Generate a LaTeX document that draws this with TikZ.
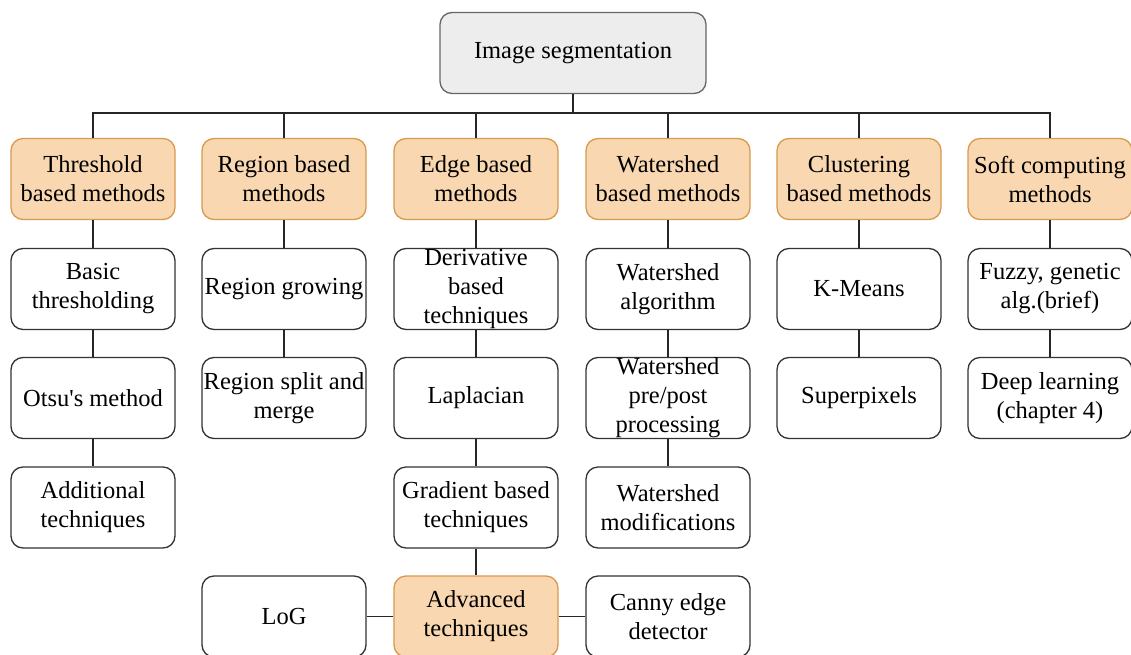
\documentclass[tikz,border=0pt]{standalone}
\usepackage{fontspec}
\setmainfont{Liberation Serif}
\begin{document}
\begin{tikzpicture}[x=1pt,y=-1pt,
  every node/.style={font=\fontsize{24.5}{29}\selectfont},
  base/.style={rounded corners=12pt, minimum width=164pt, minimum height=81pt,
    align=center, inner sep=0pt, line width=1.3pt},
  leaf/.style={base, draw=black!80, fill=white},
  rootbox/.style={base, draw=black!60, fill=black!7, minimum width=266pt},
  link/.style={line width=1.3pt, draw=black!85}]
\useasboundingbox (0,0) rectangle (1131,655);
\definecolor{catfill}{HTML}{F9D7B0}
\definecolor{catdraw}{HTML}{D79A4E}
\tikzset{cat/.style={base, draw=catdraw, fill=catfill}}

% root
\node[rootbox] (root) at (573,53) {\raisebox{-3pt}{Image segmentation}};

% categories
\node[cat] (c1) at (93,179)   {Threshold\\based methods};
\node[cat] (c2) at (284,179)  {Region based\\methods};
\node[cat] (c3) at (476,179)  {Edge based\\methods};
\node[cat] (c4) at (668,179)  {Watershed\\based methods};
\node[cat] (c5) at (859,179)  {Clustering\\based methods};
\node[cat] (c6) at (1050,179) {Soft computing\\methods};

% threshold
\node[leaf] (t1) at (93,289) {Basic\\thresholding};
\node[leaf] (t2) at (93,398) {\raisebox{-2pt}{Otsu\textquotesingle s method}};
\node[leaf] (t3) at (93,507.5) {Additional\\techniques};

% region
\node[leaf] (r1) at (284,289) {\raisebox{-2pt}{Region growing}};
\node[leaf] (r2) at (284,398) {Region split and\\merge};

% edge
\node[leaf] (e1) at (476,289) {Derivative\\based\\techniques};
\node[leaf] (e2) at (476,398) {\raisebox{-2pt}{Laplacian}};
\node[leaf] (e3) at (476,507.5) {Gradient based\\techniques};
\node[cat]  (e4) at (476,616.5) {Advanced\\techniques};
\node[leaf] (e5) at (284,616.5) {\raisebox{-2pt}{LoG}};
\node[leaf] (e6) at (668,616.5) {Canny edge\\detector};

% watershed
\node[leaf] (w1) at (668,289) {Watershed\\algorithm};
\node[leaf] (w2) at (668,398) {Watershed\\pre/post\\processing};
\node[leaf] (w3) at (668,507.5) {Watershed\\modifications};

% clustering
\node[leaf] (k1) at (859,289) {\raisebox{-2pt}{K-Means}};
\node[leaf] (k2) at (859,398) {\raisebox{-2pt}{Superpixels}};

% soft computing
\node[leaf] (s1) at (1050,289) {Fuzzy, genetic\\alg.(brief)};
\node[leaf] (s2) at (1050,398) {Deep learning\\(chapter 4)};

% bus from root to categories
\coordinate (bus) at (573,113);
\draw[link] (root.south) -- (bus);
\foreach \c in {c1,c2,c3,c4,c5,c6}
  \draw[link] (bus) -| (\c.north);

% vertical chains
\draw[link] (c1) -- (t1) (t1) -- (t2) (t2) -- (t3);
\draw[link] (c2) -- (r1) (r1) -- (r2);
\draw[link] (c3) -- (e1) (e1) -- (e2) (e2) -- (e3) (e3) -- (e4);
\draw[link] (e4) -- (e5) (e4) -- (e6);
\draw[link] (c4) -- (w1) (w1) -- (w2) (w2) -- (w3);
\draw[link] (c5) -- (k1) (k1) -- (k2);
\draw[link] (c6) -- (s1) (s1) -- (s2);
\end{tikzpicture}
\end{document}
